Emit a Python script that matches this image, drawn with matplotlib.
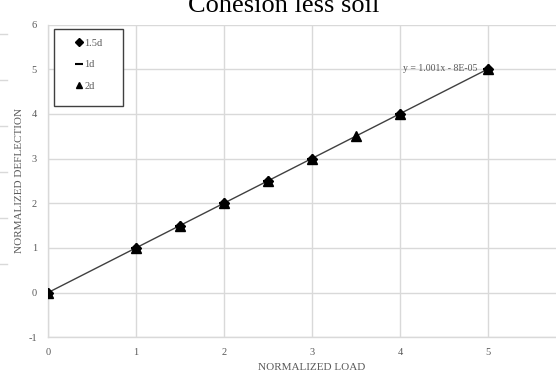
import matplotlib.pyplot as plt
from matplotlib.lines import Line2D
from matplotlib.patches import Rectangle

# ---------- data ----------
load_15d = [0, 1, 1.5, 2, 2.5, 3, 4, 5]
defl_15d = [0, 1, 1.5, 2, 2.5, 3, 4, 5]
load_1d = [0, 1, 1.5, 2, 2.5, 3, 4, 5]
defl_1d = [0, 1, 1.5, 2, 2.5, 3, 4, 5]
load_2d = [0, 1, 1.5, 2, 2.5, 3, 3.5, 4, 5]
defl_2d = [0, 1, 1.5, 2, 2.5, 3, 3.5, 4, 5]
trend_x = [0, 5]
slope, intercept = 1.001, -8e-05
trend_label = "y = 1.001x - 8E-05"
x_ticks = [0, 1, 2, 3, 4, 5]
y_ticks = [-1, 0, 1, 2, 3, 4, 5, 6]

plt.rcParams["font.family"] = ["Liberation Serif", "DejaVu Serif"]
plt.rcParams["axes.unicode_minus"] = False
GRID = "#d9d9d9"
TXT = "#595959"

fig = plt.figure(figsize=(5.56, 3.73), dpi=100)
W, H = 556, 373
# axes spans x 0..6 (right part cropped off like the source image)
ax = fig.add_axes([48 / W, 1 - 337.3 / H, 528 / W, 312.8 / H])
ax.set_xlim(0, 6)
ax.set_ylim(-1, 6)
ax.set_xticks(x_ticks)
ax.set_yticks(y_ticks)
ax.grid(True, color=GRID, lw=1)
ax.set_axisbelow(True)
for s in ["top", "right"]:
    ax.spines[s].set_visible(False)
for s in ["left", "bottom"]:
    ax.spines[s].set_color(GRID)
    ax.spines[s].set_linewidth(1)
ax.tick_params(length=0, labelsize=7.5, labelcolor=TXT, pad=8)

# trendline
ty = [slope * x + intercept for x in trend_x]
ax.plot(trend_x, ty, color="#404040", lw=1, zorder=2)

ax.plot(load_15d, defl_15d, ls="none", marker="D", ms=5, color="black", zorder=3)
ax.plot(load_1d, defl_1d, ls="none", marker="_", ms=7, mew=1.5, color="black", zorder=3)
ax.plot(load_2d, defl_2d, ls="none", marker="^", ms=7, color="black", zorder=4)

ax.annotate(trend_label, (trend_x[-1], ty[-1]), xytext=(-8, 0),
            textcoords="offset points", ha="right", va="center",
            fontsize=7, color=TXT)

ax.set_xlabel("NORMALIZED LOAD", fontsize=8, color=TXT, labelpad=4)
ax.set_ylabel("NORMALIZED DEFLECTION", fontsize=8, color=TXT, labelpad=3)

# legend box
fig.add_artist(Rectangle((53.5 / W, 1 - 106 / H), 69 / W, 76.5 / H,
                         transform=fig.transFigure, fill=True, fc="white",
                         ec="#404040", lw=1, zorder=5))
handles = [
    Line2D([], [], ls="none", marker="D", ms=4, color="black"),
    Line2D([], [], ls="none", marker="_", ms=6, mew=1.5, color="black"),
    Line2D([], [], ls="none", marker="^", ms=5, color="black"),
]
leg = fig.legend(handles, ["1.5d", "1d", "2d"], loc="upper left",
                 bbox_to_anchor=(70 / W, 1 - 33 / H), frameon=False,
                 fontsize=7.5, handlelength=0.8, handletextpad=0.1,
                 labelspacing=1.2, borderpad=0, labelcolor=TXT)
leg.set_zorder(6)

# title, partly cut off at the top as in the source
fig.text(284 / W, 1 - 12 / H, "Cohesion less soil", ha="center",
         va="baseline", fontsize=19, color="black")

# faint left-edge marks from neighbouring chart
for yp in [34, 80, 126, 172, 218, 264]:
    fig.add_artist(Line2D([0, 7 / W], [1 - yp / H, 1 - yp / H],
                          transform=fig.transFigure, color=GRID, lw=1))

fig.savefig("out.png", dpi=100)
